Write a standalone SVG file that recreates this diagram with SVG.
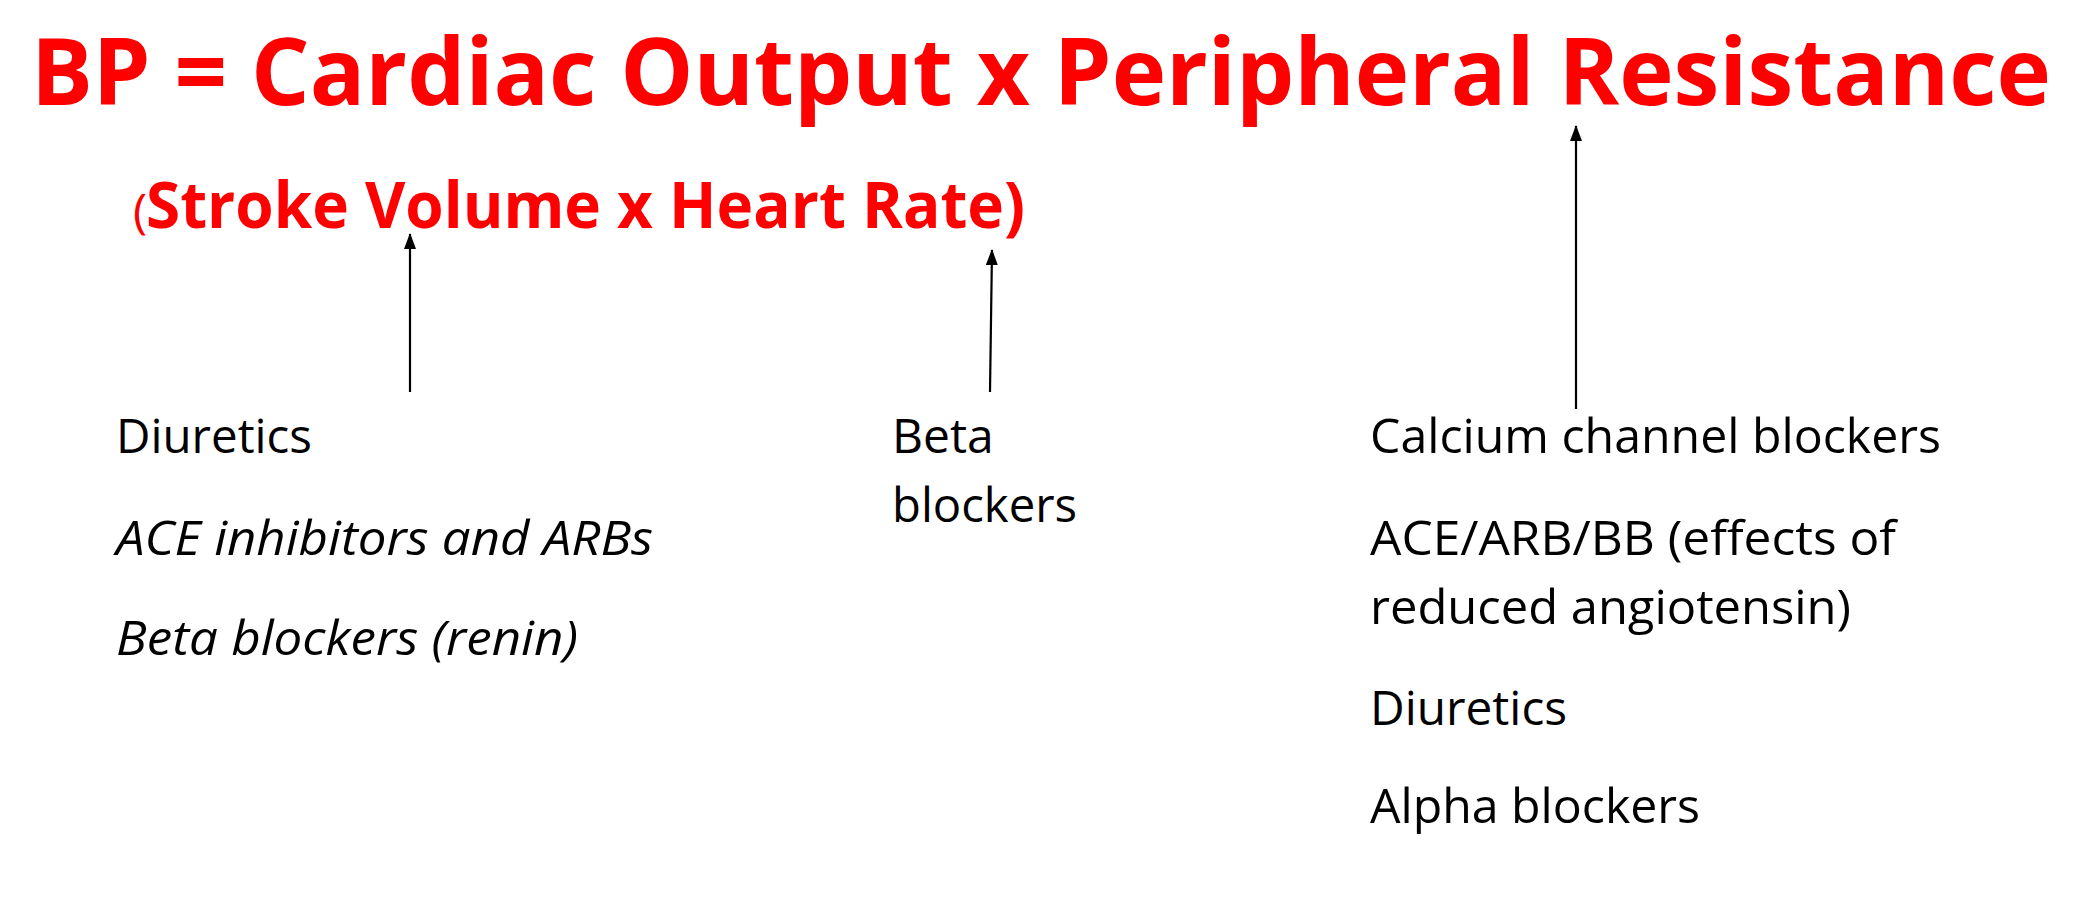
<svg xmlns="http://www.w3.org/2000/svg" width="2082" height="900" viewBox="0 0 2082 900">
<style>
.title{font-family:"Open Sans","Liberation Sans",sans-serif;font-weight:bold;fill:#FF0000}
.body{font-family:"Open Sans","Liberation Sans",sans-serif;font-size:48px;fill:#000}
.it{font-style:italic}
.conn{stroke:#000;stroke-width:2.2;fill:none;marker-end:url(#ah)}
</style>
<defs>
<marker id="ah" viewBox="0 0 16 12" refX="15" refY="6" markerWidth="16" markerHeight="12" markerUnits="userSpaceOnUse" orient="auto">
<path d="M0,0 L16,6 L0,12 z" fill="#000"/>
</marker>
</defs>
<rect width="2082" height="900" fill="#fff"/>
<g id="title">
<text class="title" x="31" y="105" font-size="93" textLength="2020" lengthAdjust="spacingAndGlyphs">BP = Cardiac Output x Peripheral Resistance</text>
</g>
<g id="subtitle">
<text class="title" x="133" y="228" font-size="64"><tspan font-size="48" font-weight="normal">(</tspan><tspan x="146" textLength="879" lengthAdjust="spacingAndGlyphs">Stroke Volume x Heart Rate)</tspan></text>
</g>
<g id="connectors">
<line class="conn" x1="410" y1="392" x2="410" y2="234"/>
<line class="conn" x1="990" y1="392" x2="992" y2="250"/>
<line class="conn" x1="1576" y1="409" x2="1576" y2="126"/>
</g>
<g id="left">
<text class="body" x="116" y="453" textLength="196" lengthAdjust="spacingAndGlyphs">Diuretics</text>
<text class="body it" x="116" y="555" textLength="537" lengthAdjust="spacingAndGlyphs">ACE inhibitors and ARBs</text>
<text class="body it" x="116" y="655" textLength="462" lengthAdjust="spacingAndGlyphs">Beta blockers (renin)</text>
</g>
<g id="middle">
<text class="body" x="892" y="453">Beta</text>
<text class="body" x="892" y="522" textLength="185" lengthAdjust="spacingAndGlyphs">blockers</text>
</g>
<g id="right">
<text class="body" x="1370" y="453" textLength="571" lengthAdjust="spacingAndGlyphs">Calcium channel blockers</text>
<text class="body" x="1370" y="555" textLength="526" lengthAdjust="spacingAndGlyphs">ACE/ARB/BB (effects of</text>
<text class="body" x="1370" y="624" textLength="481" lengthAdjust="spacingAndGlyphs">reduced angiotensin)</text>
<text class="body" x="1370" y="725" textLength="197" lengthAdjust="spacingAndGlyphs">Diuretics</text>
<text class="body" x="1370" y="823" textLength="330" lengthAdjust="spacingAndGlyphs">Alpha blockers</text>
</g>
</svg>
